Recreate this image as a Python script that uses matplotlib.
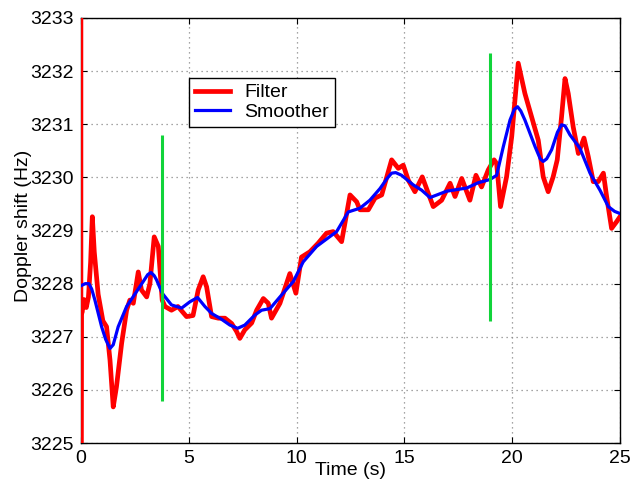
import matplotlib
matplotlib.use("Agg")
import matplotlib.pyplot as plt

plt.rcParams['font.family'] = ['Liberation Sans', 'DejaVu Sans']

# Filter estimate (red)
t_filter = [0.0, 0.0, 0.02, 0.05, 0.15, 0.25, 0.35, 0.45, 0.53, 0.62, 0.8, 1.02, 1.19, 1.35,
            1.5, 1.65, 1.89, 2.12, 2.27, 2.43, 2.66, 2.81, 3.05, 3.2, 3.4, 3.59, 3.77,
            3.9, 4.2, 4.5, 4.9, 5.2, 5.44, 5.67, 5.83, 6.06, 6.37, 6.68, 6.99, 7.22,
            7.37, 7.6, 7.92, 8.15, 8.46, 8.69, 8.84, 9.23, 9.69, 9.97, 10.23, 10.62,
            11.0, 11.39, 11.7, 12.09, 12.48, 12.79, 12.94, 13.33, 13.64, 13.95, 14.41,
            14.72, 14.95, 15.18, 15.49, 15.83, 16.11, 16.34, 16.73, 17.12, 17.35, 17.66,
            18.04, 18.32, 18.58, 18.89, 19.16, 19.28, 19.46, 19.74, 19.98, 20.28, 20.59,
            20.9, 21.21, 21.44, 21.67, 21.9, 22.09, 22.29, 22.45, 22.6, 22.83, 23.07,
            23.33, 23.53, 23.76, 23.99, 24.23, 24.38, 24.61, 24.85, 25.0]
f_filter = [3236.0, 3222.0, 3227.5, 3227.45, 3227.7, 3227.55, 3227.75, 3228.4, 3229.26, 3228.6,
            3227.8, 3227.3, 3227.19, 3226.56, 3225.68, 3226.06, 3226.88, 3227.5, 3227.69,
            3227.63, 3228.22, 3227.88, 3227.75, 3228.0, 3228.88, 3228.7, 3227.69, 3227.57,
            3227.5, 3227.57, 3227.38, 3227.4, 3227.88, 3228.13, 3227.94, 3227.38, 3227.35,
            3227.35, 3227.25, 3227.1, 3226.97, 3227.13, 3227.26, 3227.5, 3227.72, 3227.63,
            3227.35, 3227.63, 3228.19, 3227.82, 3228.5, 3228.6, 3228.76, 3228.95, 3228.98,
            3228.79, 3229.67, 3229.54, 3229.39, 3229.39, 3229.61, 3229.67, 3230.33, 3230.17,
            3230.23, 3229.95, 3229.73, 3230.01, 3229.7, 3229.45, 3229.57, 3229.89, 3229.64,
            3229.98, 3229.57, 3230.04, 3229.82, 3230.14, 3230.33, 3230.26, 3229.45, 3230.01,
            3230.77, 3232.15, 3231.58, 3231.14, 3230.7, 3230.01, 3229.73, 3230.01, 3230.33,
            3231.14, 3231.86, 3231.58, 3230.95, 3230.45, 3230.74, 3230.39, 3229.92, 3229.92,
            3230.08, 3229.64, 3229.04, 3229.17, 3229.26]

# Smoother estimate (blue)
t_smooth = [0.0, 0.2, 0.37, 0.5, 0.65, 0.96, 1.15, 1.35, 1.5, 1.73, 2.12, 2.58, 2.89, 3.1, 3.25,
            3.4, 3.51, 3.77, 4.2, 4.67, 5.06, 5.41, 5.75, 6.06, 6.52, 6.91, 7.27, 7.6,
            8.07, 8.38, 8.77, 9.23, 9.85, 10.31, 10.93, 11.86, 12.4, 12.94, 13.4, 13.87,
            14.2, 14.41, 14.6, 14.87, 15.41, 15.8, 16.19, 16.96, 17.89, 18.43, 18.97,
            19.28, 19.59, 19.9, 20.1, 20.25, 20.4, 20.59, 21.06, 21.3, 21.44, 21.6, 21.83,
            22.1, 22.29, 22.45, 22.68, 23.14, 23.61, 24.07, 24.46, 24.75, 25.0]
f_smooth = [3227.96, 3228.0, 3228.0, 3227.9, 3227.69, 3227.19, 3226.95, 3226.78, 3226.85,
            3227.19, 3227.57, 3227.85, 3228.04, 3228.17, 3228.21, 3228.15, 3228.07, 3227.82,
            3227.6, 3227.54, 3227.66, 3227.74, 3227.57, 3227.44, 3227.33, 3227.22, 3227.16,
            3227.22, 3227.41, 3227.5, 3227.53, 3227.75, 3228.04, 3228.41, 3228.7, 3228.98,
            3229.35, 3229.42, 3229.57, 3229.79, 3229.98, 3230.08, 3230.09, 3230.04, 3229.86,
            3229.76, 3229.62, 3229.74, 3229.8, 3229.9, 3229.96, 3230.04, 3230.58, 3231.08,
            3231.28, 3231.33, 3231.25, 3231.08, 3230.58, 3230.35, 3230.3, 3230.35, 3230.52,
            3230.85, 3230.99, 3230.97, 3230.8, 3230.55, 3230.08, 3229.76, 3229.45, 3229.36,
            3229.32]

# Green markers
marker_t = [3.77, 18.98]
marker_lo = [3225.8, 3227.3]
marker_hi = [3230.8, 3232.35]

xticks = [0, 5, 10, 15, 20, 25]
yticks = [3225, 3226, 3227, 3228, 3229, 3230, 3231, 3232, 3233]

fig = plt.figure(figsize=(6.32, 4.8), dpi=100)
ax = fig.add_axes([0.128, 0.077, 0.853, 0.8855])

ax.plot(t_filter, f_filter, color='#ff0000', lw=3.4, label='Filter', zorder=3,
        solid_joinstyle='round')
ax.plot(t_smooth, f_smooth, color='#0000ff', lw=2.3, label='Smoother', zorder=4,
        solid_joinstyle='round')
ax.vlines(marker_t, marker_lo, marker_hi, colors='#11d43a', lw=2.2, zorder=5)

ax.set_xlim(0, 25)
ax.set_ylim(3225, 3233)
ax.set_xticks(xticks)
ax.set_yticks(yticks)
ax.set_xticklabels([str(v) for v in xticks])
ax.set_yticklabels([str(v) for v in yticks])
ax.tick_params(direction='in', top=True, right=True, labelsize=14, length=4, width=0.8,
               pad=5)
ax.grid(True, linestyle=(0, (1, 3)), color='#888888', lw=0.9)
for s in ax.spines.values():
    s.set_linewidth(1.0)

ax.set_xlabel('Time (s)', fontsize=14)
ax.xaxis.set_label_coords(0.5, -0.045)
ax.set_ylabel('Doppler shift (Hz)', fontsize=14)
ax.yaxis.set_label_coords(-0.091, 0.51)

leg = ax.legend(loc='upper left', bbox_to_anchor=(0.2004, 0.8588), fontsize=14,
                frameon=True, fancybox=False, edgecolor='black', framealpha=1,
                borderpad=0.3, handlelength=1.8, labelspacing=0.1, handletextpad=0.75,
                borderaxespad=0)
leg.get_frame().set_linewidth(1.0)

fig.savefig('out.png', dpi=100)
